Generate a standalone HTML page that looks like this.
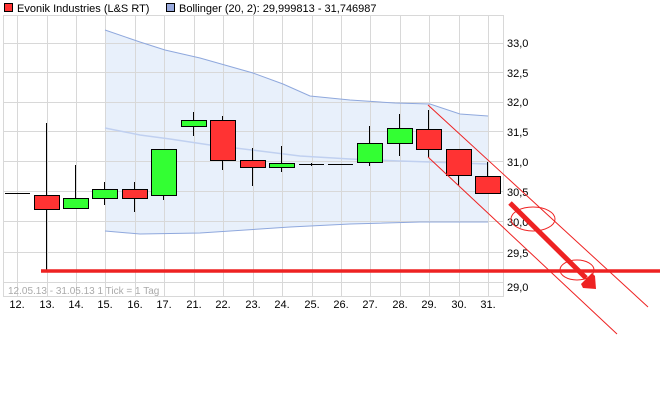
<!DOCTYPE html>
<html><head><style>body{margin:0;background:#fff}svg{display:block}</style></head><body>
<svg width="660" height="412" viewBox="0 0 660 412" xmlns="http://www.w3.org/2000/svg" font-family="Liberation Sans, sans-serif">
<rect width="660" height="412" fill="#fff"/>
<rect x="4.5" y="3.5" width="8" height="8" fill="#ff3333" stroke="#000"/>
<text x="17" y="12" font-size="11" fill="#000">Evonik Industries (L&amp;S RT)</text>
<rect x="166.5" y="3.5" width="8" height="8" fill="#99aadd" stroke="#000"/>
<text x="179" y="12" font-size="11" fill="#000">Bollinger (20, 2): 29,999813 - 31,746987</text>
<path d="M105,30 L140,42 L165,50 L200,58 L253,73 L283,84 L310,96 L350,100 L395,103 L430,104 L460,114 L488,116 L488,222 L420,222 L350,224 L290,227 L260,229 L200,233 L140,234 L105,231 Z" fill="#e8f0fb"/>
<g stroke="#d8d8d8" stroke-width="1">
<line x1="3" y1="43.5" x2="503" y2="43.5"/><line x1="3" y1="72.5" x2="503" y2="72.5"/><line x1="3" y1="102.5" x2="503" y2="102.5"/><line x1="3" y1="131.5" x2="503" y2="131.5"/><line x1="3" y1="161.5" x2="503" y2="161.5"/><line x1="3" y1="191.5" x2="503" y2="191.5"/><line x1="3" y1="221.5" x2="503" y2="221.5"/><line x1="3" y1="252.5" x2="503" y2="252.5"/><line x1="3" y1="282.5" x2="503" y2="282.5"/>
<line x1="17.5" y1="15" x2="17.5" y2="296"/><line x1="47.5" y1="15" x2="47.5" y2="296"/><line x1="76.5" y1="15" x2="76.5" y2="296"/><line x1="105.5" y1="15" x2="105.5" y2="296"/><line x1="135.5" y1="15" x2="135.5" y2="296"/><line x1="164.5" y1="15" x2="164.5" y2="296"/><line x1="194.5" y1="15" x2="194.5" y2="296"/><line x1="223.5" y1="15" x2="223.5" y2="296"/><line x1="253.5" y1="15" x2="253.5" y2="296"/><line x1="282.5" y1="15" x2="282.5" y2="296"/><line x1="312.5" y1="15" x2="312.5" y2="296"/><line x1="341.5" y1="15" x2="341.5" y2="296"/><line x1="370.5" y1="15" x2="370.5" y2="296"/><line x1="400.5" y1="15" x2="400.5" y2="296"/><line x1="429.5" y1="15" x2="429.5" y2="296"/><line x1="459.5" y1="15" x2="459.5" y2="296"/><line x1="488.5" y1="15" x2="488.5" y2="296"/>
</g>
<rect x="3.5" y="15.5" width="500" height="281" fill="none" stroke="#d8d8d8"/>
<polyline points="105,30 140,42 165,50 200,58 253,73 283,84 310,96 350,100 395,103 430,104 460,114 488,116" fill="none" stroke="#8fa8dd" stroke-width="1"/>
<polyline points="105,128 140,135 170,139 210,145 260,151 300,156 350,159 400,161 430,162 488,164" fill="none" stroke="#c0d0f0" stroke-width="1.5"/>
<polyline points="105,231 140,234 200,233 260,229 290,227 350,224 420,222 488,222" fill="none" stroke="#8fa8dd" stroke-width="1"/>
<g stroke="#000" stroke-width="1">
<line x1="5" y1="193.5" x2="30" y2="193.5"/>
<line x1="46.5" y1="123" x2="46.5" y2="270"/><rect x="34.5" y="195.5" width="25" height="14" fill="#ff3333"/>
<line x1="75.5" y1="165" x2="75.5" y2="209"/><rect x="63.5" y="198.5" width="25" height="10" fill="#33ff33"/>
<line x1="104.5" y1="182" x2="104.5" y2="205"/><rect x="92.5" y="189.5" width="25" height="9" fill="#33ff33"/>
<line x1="134.5" y1="182" x2="134.5" y2="212"/><rect x="122.5" y="189.5" width="25" height="9" fill="#ff3333"/>
<line x1="163.5" y1="149" x2="163.5" y2="200"/><rect x="151.5" y="149.5" width="25" height="46" fill="#33ff33"/>
<line x1="193.5" y1="112" x2="193.5" y2="136"/><rect x="181.5" y="120.5" width="25" height="6" fill="#33ff33"/>
<line x1="222.5" y1="116" x2="222.5" y2="170"/><rect x="210.5" y="120.5" width="25" height="40" fill="#ff3333"/>
<line x1="252.5" y1="148" x2="252.5" y2="186"/><rect x="240.5" y="160.5" width="25" height="7" fill="#ff3333"/>
<line x1="281.5" y1="146" x2="281.5" y2="172"/><rect x="269.5" y="163.5" width="25" height="4" fill="#33ff33"/>
<line x1="299" y1="164.5" x2="324" y2="164.5"/><line x1="311.5" y1="163" x2="311.5" y2="166"/>
<line x1="328" y1="164.5" x2="353" y2="164.5"/>
<line x1="369.5" y1="126" x2="369.5" y2="166"/><rect x="357.5" y="143.5" width="25" height="19" fill="#33ff33"/>
<line x1="399.5" y1="114" x2="399.5" y2="156"/><rect x="387.5" y="128.5" width="25" height="15" fill="#33ff33"/>
<line x1="428.5" y1="110" x2="428.5" y2="157"/><rect x="416.5" y="129.5" width="25" height="20" fill="#ff3333"/>
<line x1="458.5" y1="149" x2="458.5" y2="185"/><rect x="446.5" y="149.5" width="25" height="26" fill="#ff3333"/>
<line x1="487.5" y1="162" x2="487.5" y2="193"/><rect x="475.5" y="176.5" width="25" height="17" fill="#ff3333"/>
</g>
<g font-size="11" fill="#000">
<text x="507" y="47">33,0</text><text x="507" y="77">32,5</text><text x="507" y="106">32,0</text><text x="507" y="136">31,5</text><text x="507" y="166">31,0</text><text x="507" y="196">30,5</text><text x="507" y="226">30,0</text><text x="507" y="257">29,5</text><text x="507" y="291">29,0</text>
</g>
<g font-size="11" fill="#000" text-anchor="middle">
<text x="17" y="308">12.</text><text x="47" y="308">13.</text><text x="76" y="308">14.</text><text x="105" y="308">15.</text><text x="135" y="308">16.</text><text x="164" y="308">17.</text><text x="194" y="308">21.</text><text x="223" y="308">22.</text><text x="253" y="308">23.</text><text x="282" y="308">24.</text><text x="312" y="308">25.</text><text x="341" y="308">26.</text><text x="370" y="308">27.</text><text x="400" y="308">28.</text><text x="429" y="308">29.</text><text x="459" y="308">30.</text><text x="488" y="308">31.</text>
</g>
<text x="8" y="294" font-size="10" fill="#aaa">12.05.13 - 31.05.13   1 Tick = 1 Tag</text>
<line x1="41" y1="271" x2="660" y2="271" stroke="#ee2222" stroke-width="3.5"/>
<line x1="428" y1="105" x2="648" y2="307" stroke="#ee2222" stroke-width="1"/>
<line x1="428" y1="157" x2="617" y2="334" stroke="#ee2222" stroke-width="1"/>
<ellipse cx="533" cy="219" rx="22" ry="12" fill="none" stroke="#ee2222" stroke-width="1"/>
<ellipse cx="577" cy="270" rx="17" ry="10" fill="none" stroke="#ee2222" stroke-width="1"/>
<line x1="510" y1="203" x2="586" y2="278" stroke="#ee2222" stroke-width="5"/>
<polygon points="596,289 583,288 581,284 592,273 595,276" fill="#ee2222"/>
</svg>
</body></html>
